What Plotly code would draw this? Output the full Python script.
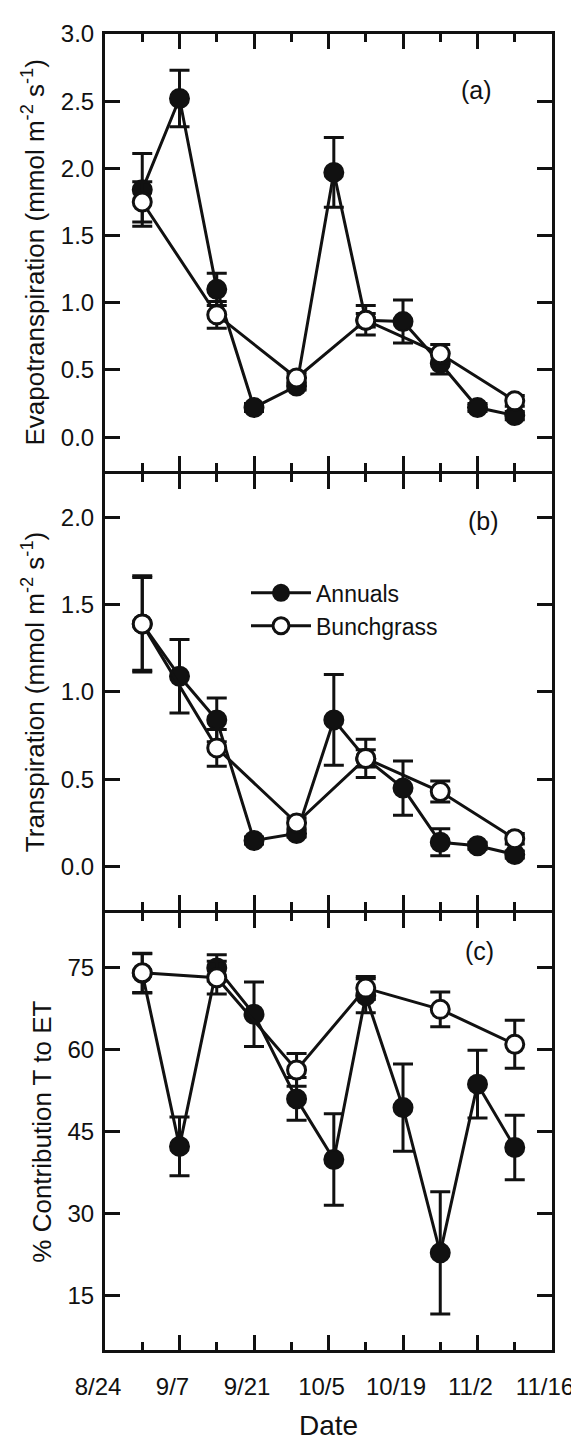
import plotly.graph_objects as go

# ---------------- data ----------------
dates_ann = ["2010-08-31", "2010-09-07", "2010-09-14", "2010-09-21", "2010-09-29",
             "2010-10-06", "2010-10-12", "2010-10-19", "2010-10-26", "2010-11-02", "2010-11-09"]
dates_bg = ["2010-08-31", "2010-09-14", "2010-09-29", "2010-10-12", "2010-10-26", "2010-11-09"]

et_ann = [1.84, 2.52, 1.10, 0.22, 0.38, 1.97, 0.87, 0.86, 0.55, 0.22, 0.16]
et_ann_err = [0.27, 0.21, 0.12, 0.03, 0.03, 0.26, 0.05, 0.16, 0.08, 0.03, 0.03]
et_bg = [1.75, 0.91, 0.44, 0.87, 0.62, 0.27]
et_bg_err = [0.15, 0.10, 0.04, 0.11, 0.07, 0.04]

t_ann = [1.39, 1.09, 0.84, 0.15, 0.19, 0.84, 0.62, 0.45, 0.14, 0.12, 0.07]
t_ann_err = [0.275, 0.21, 0.125, 0.02, 0.02, 0.26, 0.05, 0.155, 0.077, 0.02, 0.02]
t_bg = [1.39, 0.68, 0.25, 0.62, 0.43, 0.16]
t_bg_err = [0.265, 0.105, 0.03, 0.11, 0.06, 0.03]

c_ann = [74.0, 42.3, 75.0, 66.5, 51.0, 39.9, 69.9, 49.4, 22.8, 53.7, 42.1]
c_ann_err = [3.6, 5.4, 2.4, 5.9, 3.9, 8.4, 3.1, 8.0, 11.2, 6.2, 5.9]
c_bg = [74.1, 73.2, 56.3, 71.3, 67.4, 61.0]
c_bg_err = [3.6, 3.0, 3.0, 2.1, 3.2, 4.4]

panel_labels = ["(a)", "(b)", "(c)"]
y_titles = ["Evapotranspiration (mmol m<sup>-2</sup> s<sup>-1</sup>)",
            "Transpiration (mmol m<sup>-2</sup> s<sup>-1</sup>)",
            "% Contribution T to ET"]
x_title = "Date"
series_names = ["Annuals", "Bunchgrass"]

# ---------------- style ----------------
INK = "#111111"
FONT = "Liberation Sans, Arial, sans-serif"
DAY = 86400000
OFF = 8  # page body margin

ML, MR, MT, MB = 97, 35, 14, 84
W, H = 579, 1440
PW, PH = W - ML - MR, H - MT - MB
GAP = 3
ph = (PH - 2 * GAP) / 3


def px_x(sx):
    return (sx - OFF - ML) / PW


def px_y(sy):
    return (H - MB - (sy - OFF)) / PH


fig = go.Figure()

panels = [(et_ann, et_ann_err, et_bg, et_bg_err),
          (t_ann, t_ann_err, t_bg, t_bg_err),
          (c_ann, c_ann_err, c_bg, c_bg_err)]

for i, (ya, ea, yb, eb) in enumerate(panels):
    ax = "" if i == 0 else str(i + 1)
    fig.add_trace(go.Scatter(
        x=dates_ann, y=ya, name=series_names[0], mode="lines+markers",
        xaxis="x" + ax, yaxis="y" + ax,
        line=dict(color=INK, width=3),
        marker=dict(symbol="circle", size=19, color=INK, line=dict(color=INK, width=2)),
        error_y=dict(type="data", array=ea, visible=True, color=INK, thickness=3, width=10),
        showlegend=(i == 1)))
    fig.add_trace(go.Scatter(
        x=dates_bg, y=yb, name=series_names[1], mode="lines+markers",
        xaxis="x" + ax, yaxis="y" + ax,
        line=dict(color=INK, width=3),
        marker=dict(symbol="circle", size=18, color="white", line=dict(color=INK, width=3)),
        error_y=dict(type="data", array=eb, visible=True, color=INK, thickness=3, width=10),
        showlegend=(i == 1)))

domains = [[(2 * ph + 2 * GAP) / PH, 1.0],
           [(ph + GAP) / PH, (2 * ph + GAP) / PH],
           [0.0, ph / PH]]
yranges = [[-0.25, 3.0], [-0.25, 2.25], [5, 85]]
ydticks = [0.5, 0.5, 15]
yformats = [".1f", ".1f", "d"]

layout = dict(
    width=W, height=H,
    margin=dict(l=ML, r=MR, t=MT, b=MB),
    paper_bgcolor="white", plot_bgcolor="white",
    font=dict(family=FONT, color=INK, size=24),
    legend=dict(x=px_x(246), y=px_y(570), xanchor="left", yanchor="top",
                font=dict(size=23, family=FONT, color=INK),
                bgcolor="rgba(0,0,0,0)", borderwidth=0, itemwidth=60,
                tracegroupgap=0, traceorder="normal"),
)

for i in range(3):
    ax = "" if i == 0 else str(i + 1)
    xa = dict(
        domain=[0, 1], anchor="y" + ax, type="date",
        range=["2010-08-24", "2010-11-16"],
        tick0="2010-08-24", dtick=14 * DAY, tickformat="%-m/%-d",
        ticks="inside", ticklen=15, tickwidth=3, tickcolor=INK,
        minor=dict(ticks="inside", ticklen=8, tickwidth=3, tickcolor=INK, dtick=7 * DAY,
                   tick0="2010-08-24", showgrid=False),
        showline=True, linewidth=3, linecolor=INK, mirror="ticks",
        showgrid=False, zeroline=False,
        showticklabels=(i == 2),
        tickfont=dict(size=24, family=FONT, color=INK),
        ticklabelshift=-7, ticklabelstandoff=13,
    )
    if i == 2:
        xa["title"] = dict(text=x_title, font=dict(size=28, family=FONT, color=INK), standoff=17)
    layout["xaxis" + ax] = xa
    layout["yaxis" + ax] = dict(
        domain=domains[i], anchor="x" + ax, range=yranges[i],
        tick0=0, dtick=ydticks[i], tickformat=yformats[i],
        ticks="inside", ticklen=15, tickwidth=3, tickcolor=INK,
        showline=True, linewidth=3, linecolor=INK, mirror="ticks",
        showgrid=False, zeroline=False,
        tickfont=dict(size=24, family=FONT, color=INK),
        ticklabelstandoff=3,
        title=dict(text=y_titles[i], font=dict(size=26, family=FONT, color=INK), standoff=9),
    )

fig.update_layout(**layout)

label_pos = [(476, 79), (483, 519), (479, 957)]
for (sx, sy), txt in zip(label_pos, panel_labels):
    fig.add_annotation(text=txt, xref="paper", yref="paper",
                       x=px_x(sx), y=px_y(sy),
                       showarrow=False, font=dict(size=25, family=FONT, color=INK),
                       xanchor="center", yanchor="middle")

fig.write_html("out.html")
